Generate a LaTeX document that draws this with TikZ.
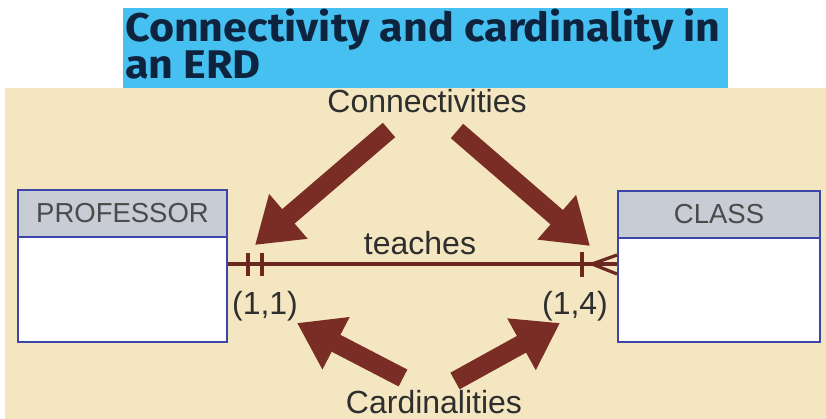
\documentclass[tikz,border=0pt]{standalone}
\usepackage{fontspec}
\setmainfont{Liberation Sans}
\newfontfamily\titlefont{Fira Sans}
\usetikzlibrary{arrows.meta}

\definecolor{sand}{RGB}{243,230,192}
\definecolor{skyband}{RGB}{69,192,240}
\definecolor{navytext}{RGB}{14,36,62}
\definecolor{rust}{RGB}{122,45,36}
\definecolor{linkbrown}{RGB}{108,40,32}
\definecolor{boxblue}{RGB}{60,70,170}
\definecolor{headgrey}{RGB}{200,204,212}
\definecolor{labelgrey}{RGB}{75,75,75}

\begin{document}
\begin{tikzpicture}[x=1pt,y=-1pt,
  entityhead/.style={draw=boxblue, line width=2pt, fill=headgrey,
    inner sep=0pt, font=\fontsize{27.5}{30}\selectfont, text=labelgrey},
  entitybody/.style={draw=boxblue, line width=2pt, fill=white, inner sep=0pt},
  fatarrow/.style={rust, line width=19pt, -{Triangle[width=56pt,length=44pt]}},
  relline/.style={linkbrown, line width=3.2pt},
  caption/.style={font=\fontsize{32}{36}\selectfont, text=black!82, inner sep=0pt, anchor=base},
  titleline/.style={font=\titlefont\bfseries\fontsize{40}{40}\selectfont, text=navytext,
    inner sep=0pt, anchor=base west}
]
% canvas
\useasboundingbox (0,0) rectangle (826,419);
\fill[white] (0,0) rectangle (826,419);
\fill[sand] (5,88) rectangle (826,419);

% heading band
\fill[skyband] (123,8) rectangle (728,88);
\node[titleline] (title1) at (125,42) {\scalebox{1.075}[1]{Connectivity and cardinality in}};
\node[titleline] (title2) at (125,79) {\scalebox{1.075}[1]{an ERD}};

% entities
\node[entityhead, minimum width=209pt, minimum height=47pt] (profhead) at (122.5,213.5) {PROFESSOR};
\node[entitybody, minimum width=209pt, minimum height=105pt] (profbody) at (122.5,289.5) {};
\node[entityhead, minimum width=202pt, minimum height=47pt] (classhead) at (719,214.5) {CLASS};
\node[entitybody, minimum width=202pt, minimum height=104pt] (classbody) at (719,290) {};

% relationship line with its markers
\coordinate (relrow) at (0,264);
\coordinate (footjoin) at (592,264);
\draw[relline] (profbody.east |- relrow) -- (classbody.west |- relrow);
\draw[relline] (248,253) -- (248,276);
\draw[relline] (262,253) -- (262,276);
\draw[relline] (582,252) -- (582,277);
\draw[relline] (footjoin) -- (classbody.west |- 0,255);
\draw[relline] (footjoin) -- (classbody.west |- 0,274);

% labels
\node[caption] (conn) at (427,113) {Connectivities};
\node[caption] (card) at (434,413) {Cardinalities};
\node[caption] (rel) at (420,255) {teaches};
\node[caption] (cardA) at (265,314) {(1,1)};
\node[caption] (cardB) at (575,314) {(1,4)};

% pointer arrows
\coordinate (connLtail) at (389,130);
\coordinate (connLtip) at (255,245);
\coordinate (connRtail) at (457,131);
\coordinate (connRtip) at (590,246);
\coordinate (cardLtail) at (403,378);
\coordinate (cardLtip) at (297,323);
\coordinate (cardRtail) at (455,381);
\coordinate (cardRtip) at (560,323);
\draw[fatarrow] (connLtail) -- (connLtip);
\draw[fatarrow] (connRtail) -- (connRtip);
\draw[fatarrow] (cardLtail) -- (cardLtip);
\draw[fatarrow] (cardRtail) -- (cardRtip);
\end{tikzpicture}
\end{document}
